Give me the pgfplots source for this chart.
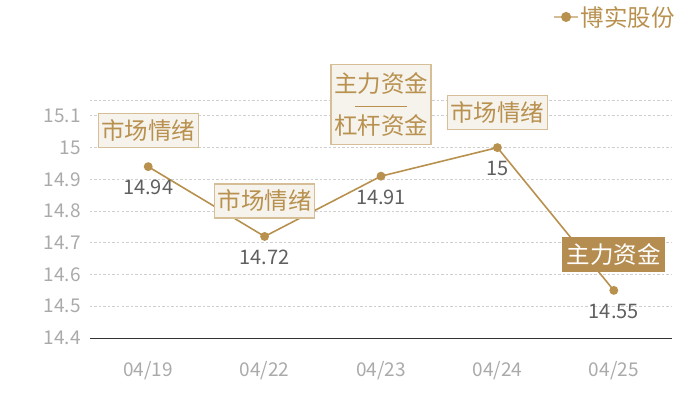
\documentclass[border=0pt]{standalone}
\usepackage{pgfplots}
\pgfplotsset{compat=1.18}
\usepackage{fontspec}
\setmainfont{Noto Sans CJK SC}

\definecolor{gold}{HTML}{B8914F}
\definecolor{boxfill}{HTML}{F6F2EC}
\definecolor{boxedge}{HTML}{D6BE97}
\definecolor{darkfill}{HTML}{B58D50}
\definecolor{ticktext}{HTML}{AAAAAA}
\definecolor{valtext}{HTML}{5F5F5F}
\definecolor{gridc}{HTML}{CFCFCF}

\pgfplotstableread{
x y lab
0 14.94 14.94
1 14.72 14.72
2 14.91 14.91
3 15.00 15
4 14.55 14.55
}\prices

\begin{document}
\begin{tikzpicture}[x=1bp,y=1bp,
    anno/.style={draw=boxedge, fill=boxfill, text=gold, line width=1.2bp,
      minimum width=100bp, minimum height=34bp, inner sep=0pt,
      font=\fontsize{23.5bp}{21bp}\selectfont}]
\path[use as bounding box] (-90,-62) rectangle (610,338);
\begin{axis}[
    width=582bp, height=238bp, scale only axis,
    xmin=-0.5, xmax=4.5, ymin=14.4, ymax=15.15,
    xtick={0,1,2,3,4}, xticklabels={04/19,04/22,04/23,04/24,04/25},
    ytick={14.4,14.5,14.6,14.7,14.8,14.9,15,15.1},
    extra y ticks={15.15}, extra y tick labels={},
    extra tick style={grid=major},
    ymajorgrids, grid style={gridc, dash pattern=on 2.5bp off 2bp, line width=0.8bp},
    major tick length=0pt,
    axis x line*=bottom, axis y line*=left,
    y axis line style={draw=none},
    x axis line style={draw=black!80, line width=1bp},
    /pgf/number format/assume math mode=true,
    ticklabel style={font=\fontsize{19bp}{19bp}\selectfont, text=ticktext, inner sep=0pt},
    yticklabel style={anchor=east, xshift=-9bp},
    xticklabel style={anchor=center, yshift=-33bp},
    clip=false,
    legend style={draw=none, fill=none, at={(1.0086,1.349)}, anchor=east,
      font=\fontsize{23.5bp}{23.5bp}\selectfont, text=gold, inner sep=0pt},
    legend image code/.code={
      \draw[gold!60, line width=1.5bp] (-4bp,0bp) -- (20bp,0bp);
      \fill[gold] (8bp,0bp) circle (4.2bp);},
  ]
  \addplot[gold, line width=1.6bp, mark=*, mark size=3.6bp,
    mark options={fill=gold, draw=gold},
    nodes near coords, point meta=explicit symbolic,
    every node near coord/.style={anchor=center, yshift=-21bp,
      font=\fontsize{20bp}{20bp}\selectfont, text=valtext}]
    table[x=x, y=y, meta=lab] {\prices};
  \addlegendentry{博实股份}

  \node[anno] at (axis cs:0,15.053) {市场情绪};
  \node[anno] at (axis cs:1,14.832) {市场情绪};
  \node[anno, align=center, minimum height=80bp] at (axis cs:2,15.135)
    {主力资金\\\rule[6.5bp]{52bp}{1.5bp}\\杠杆资金};
  \node[anno] at (axis cs:3,15.111) {市场情绪};
  \node[anno, fill=darkfill, draw=darkfill, text=white, minimum width=102bp]
    at (axis cs:4,14.663) {主力资金};
\end{axis}
\end{tikzpicture}
\end{document}
